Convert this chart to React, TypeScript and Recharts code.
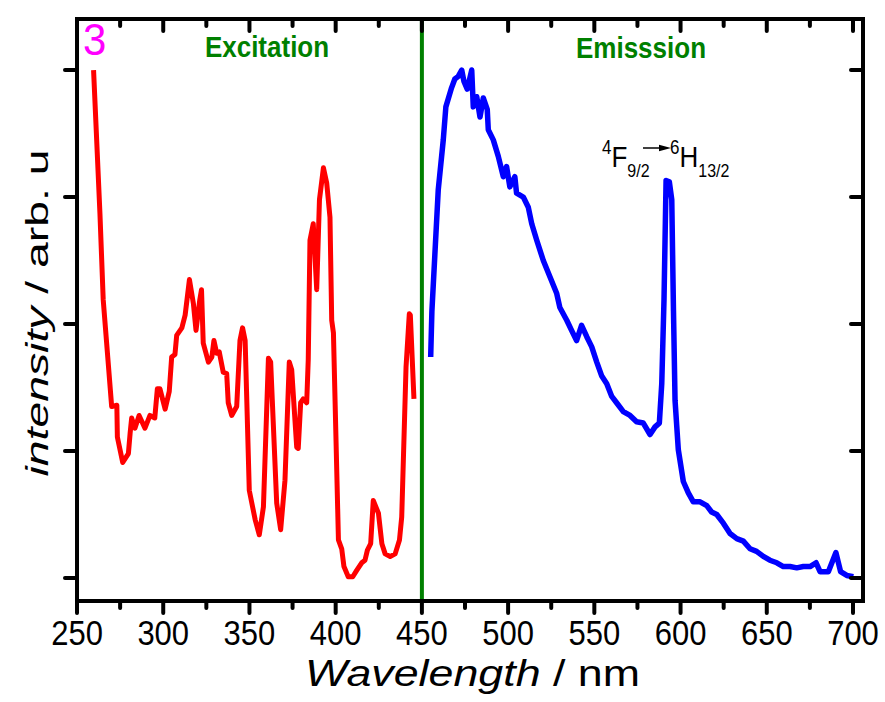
import { ComposedChart, Line, XAxis, YAxis, ReferenceLine } from 'recharts';

// excitation spectrum (red), wavelength in nm / intensity in arb. units
const exWavelength = [
  259.6, 263.3, 265.2, 270.1, 273.1, 273.4, 276.5, 279.8, 280.8, 281.7, 283.6, 286.0, 289.4, 292.3,
  295.1, 296.6, 298.1, 301.1, 303.5, 304.9, 306.8, 307.8, 310.8, 312.7, 315.2, 317.5, 319.0, 321.2,
  322.2, 323.2, 326.2, 328.2, 329.4, 331.0, 332.5, 334.8, 336.8, 337.7, 339.7, 342.6, 344.5, 346.0,
  347.5, 349.9, 353.3, 355.7, 358.1, 361.0, 362.3, 365.8, 368.1, 370.6, 373.1, 374.5, 377.4, 378.3,
  379.7, 381.2, 383.2, 384.1, 385.1, 387.0, 389.0, 390.6, 392.9, 394.8, 396.7, 397.7, 398.7, 401.6,
  403.5, 404.8, 407.3, 409.9, 412.2, 415.1, 417.0, 418.4, 420.3, 421.8, 424.8, 426.8, 428.7, 431.6,
  434.5, 437.0, 438.3, 440.8, 442.7, 443.3, 445.4,
];
const exIntensity = [
  4.0, 2.87, 2.19, 1.35, 1.36, 1.11, 0.91, 0.98, 1.14, 1.26, 1.18, 1.28, 1.18, 1.28,
  1.26, 1.49, 1.49, 1.33, 1.47, 1.74, 1.76, 1.91, 1.97, 2.07, 2.35, 2.16, 1.95, 2.19,
  2.27, 1.85, 1.7, 1.74, 1.87, 1.77, 1.78, 1.62, 1.61, 1.38, 1.28, 1.35, 1.87, 1.97,
  1.87, 0.69, 0.46, 0.34, 0.56, 1.73, 1.7, 0.59, 0.38, 0.77, 1.7, 1.64, 1.03, 1.02,
  1.38, 1.41, 1.38, 1.72, 2.66, 2.79, 2.27, 2.98, 3.23, 3.11, 2.84, 2.03, 1.93, 0.3,
  0.23, 0.09, 0.01, 0.01, 0.06, 0.12, 0.14, 0.22, 0.27, 0.61, 0.51, 0.27, 0.19, 0.17,
  0.19, 0.3, 0.48, 1.66, 2.08, 2.07, 1.41,
];

// emission spectrum (blue)
const emWavelength = [
  455.1, 455.8, 459.5, 462.4, 463.9, 467.2, 469.1, 471.1, 473.1, 474.4, 476.3, 478.9, 479.8, 481.8,
  483.7, 485.6, 487.9, 488.5, 491.4, 494.3, 497.2, 499.1, 501.0, 503.9, 504.9, 508.8, 511.7, 513.7,
  516.6, 520.4, 524.3, 528.2, 530.0, 534.0, 536.8, 539.7, 542.6, 545.6, 548.5, 551.4, 554.3, 557.2,
  560.1, 562.9, 566.8, 570.7, 574.5, 578.4, 582.3, 585.2, 587.7, 589.1, 590.4, 591.6, 593.5, 594.9,
  595.9, 596.8, 598.7, 601.6, 604.5, 607.4, 611.3, 615.2, 618.0, 621.0, 624.9, 628.7, 632.6, 636.4,
  640.3, 644.1, 648.0, 651.8, 655.8, 659.6, 663.5, 667.4, 671.2, 675.1, 678.6, 680.9, 685.7, 690.1,
  692.8, 696.4, 700.2,
];
const emIntensity = [
  1.74, 2.1, 3.06, 3.45, 3.71, 3.86, 3.93, 3.95, 4.0, 3.91, 3.85, 4.0, 3.71, 3.79,
  3.63, 3.78, 3.69, 3.53, 3.45, 3.32, 3.16, 3.24, 3.08, 3.16, 3.03, 3.0, 2.92, 2.79,
  2.66, 2.5, 2.37, 2.24, 2.13, 2.03, 1.95, 1.87, 1.99, 1.9, 1.82, 1.7, 1.59, 1.53,
  1.43, 1.38, 1.31, 1.28, 1.23, 1.22, 1.13, 1.19, 1.22, 1.53, 2.19, 3.13, 3.12, 2.98,
  2.1, 1.4, 1.01, 0.76, 0.67, 0.6, 0.6, 0.57, 0.52, 0.5, 0.43, 0.35, 0.31, 0.29,
  0.23, 0.21, 0.17, 0.14, 0.12, 0.09, 0.09, 0.08, 0.09, 0.09, 0.12, 0.05, 0.05, 0.2,
  0.05, 0.02, 0.01,
];

const majorTicks = [250, 300, 350, 400, 450, 500, 550, 600, 650, 700];
const minorTicks = [275, 325, 375, 425, 475, 525, 575, 625, 675];
const intensityTicks = [0, 1, 2, 3, 4];

const excitation = exWavelength.map((nm, i) => ({ nm, v: exIntensity[i] }));
const emission = emWavelength.map((nm, i) => ({ nm, v: emIntensity[i] }));

const FONT = '"Liberation Sans", Arial, Helvetica, sans-serif';
const X_DOMAIN: [number, number] = [250, 705.8];
const Y_DOMAIN: [number, number] = [-0.181, 4.402];
// axes get a near-zero thickness so they all sit on the plot frame
const THIN = 0.01;

const frame = { stroke: '#000', strokeWidth: 4, strokeLinecap: 'square' as const };
const tickMark = { stroke: '#000', strokeWidth: 4, strokeLinecap: 'round' as const };

const Blank = () => <g />;

const WaveTick = ({ x, y, payload }: any) => (
  <text
    transform={`translate(${x},${y + 30.5}) scale(1,1.13)`}
    textAnchor="middle"
    fontFamily={FONT}
    fontSize={31}
    fill="#000"
  >
    {payload.value}
  </text>
);

const XTitle = () => (
  <text
    x={472.5}
    y={685.5}
    textAnchor="middle"
    fontFamily={FONT}
    fontSize={36}
    fill="#000"
    textLength={335}
    lengthAdjust="spacingAndGlyphs"
  >
    <tspan fontStyle="italic">Wavelength</tspan>
    <tspan> / nm</tspan>
  </text>
);

const YTitle = () => (
  <text
    transform="translate(48,313) rotate(-90)"
    textAnchor="middle"
    fontFamily={FONT}
    fontSize={32}
    fill="#000"
    textLength={327}
    lengthAdjust="spacingAndGlyphs"
  >
    <tspan fontStyle="italic">intensity</tspan>
    <tspan> / arb. u</tspan>
  </text>
);

const Stretched = ({ x, y, size, sy = 1.13, children, ...rest }: any) => (
  <text transform={`translate(${x},${y}) scale(1,${sy})`} fontFamily={FONT} fontSize={size} {...rest}>
    {children}
  </text>
);

// term symbol: superscript multiplicity, letter, subscript J
const Term = ({ x, mult, letter, j }: any) => (
  <Stretched x={x} y={166.5} size={26} sy={1.15} fill="#000">
    <tspan fontSize={17} dy={-10.5}>{mult}</tspan>
    <tspan dy={10.5}>{letter}</tspan>
    <tspan fontSize={16} dy={9}>{j}</tspan>
  </Stretched>
);

// panel number, region captions and the transition label
const Annotations = () => (
  <svg width={885} height={702} style={{ position: 'absolute', left: 0, top: 0, pointerEvents: 'none' }}>
    <Stretched x={83} y={55} size={42} sy={1.06} fill="#FF00FF">3</Stretched>
    <Stretched x={267} y={56.5} size={26} fill="#008000" fontWeight="bold" textAnchor="middle">Excitation</Stretched>
    <Stretched x={641} y={58} size={26} fill="#008000" fontWeight="bold" textAnchor="middle">Emisssion</Stretched>

    <Term x={602} mult="4" letter="F" j="9/2" />
    <line x1={643} y1={148} x2={661} y2={148} stroke="#000" strokeWidth={1.5} />
    <polygon points="659,144.8 671,148 659,151.2" fill="#000" />
    <Term x={670} mult="6" letter="H" j="13/2" />
  </svg>
);

export default function App() {
  return (
    <div style={{ position: 'absolute', left: 0, top: 0, width: 885, height: 702, background: '#fff' }}>
      <ComposedChart width={885} height={702} margin={{ top: 19, right: 22, bottom: 101, left: 77 }}>
        {/* bottom axis: labelled major ticks, then unlabelled minors */}
        <XAxis
          xAxisId="b"
          type="number"
          dataKey="nm"
          domain={X_DOMAIN}
          allowDataOverflow
          ticks={majorTicks}
          interval={0}
          height={THIN}
          tickSize={12}
          tickMargin={2}
          axisLine={frame}
          tickLine={tickMark}
          tick={WaveTick}
          label={XTitle}
        />
        <XAxis
          xAxisId="bMinor"
          type="number"
          dataKey="nm"
          domain={X_DOMAIN}
          allowDataOverflow
          ticks={minorTicks}
          interval={0}
          height={THIN}
          tickSize={7}
          axisLine={false}
          tickLine={tickMark}
          tick={Blank}
        />
        {/* top frame with inward ticks */}
        <XAxis
          xAxisId="t"
          orientation="top"
          mirror
          type="number"
          dataKey="nm"
          domain={X_DOMAIN}
          allowDataOverflow
          ticks={majorTicks}
          interval={0}
          height={THIN}
          tickSize={12}
          axisLine={frame}
          tickLine={tickMark}
          tick={Blank}
        />
        <XAxis
          xAxisId="tMinor"
          orientation="top"
          mirror
          type="number"
          dataKey="nm"
          domain={X_DOMAIN}
          allowDataOverflow
          ticks={minorTicks}
          interval={0}
          height={THIN}
          tickSize={7}
          axisLine={false}
          tickLine={tickMark}
          tick={Blank}
        />
        <YAxis
          yAxisId="l"
          type="number"
          domain={Y_DOMAIN}
          allowDataOverflow
          ticks={intensityTicks}
          interval={0}
          width={THIN}
          tickSize={12}
          axisLine={frame}
          tickLine={tickMark}
          tick={Blank}
          label={YTitle}
        />
        <YAxis
          yAxisId="r"
          orientation="right"
          mirror
          type="number"
          domain={Y_DOMAIN}
          allowDataOverflow
          ticks={intensityTicks}
          interval={0}
          width={THIN}
          tickSize={12}
          axisLine={frame}
          tickLine={tickMark}
          tick={Blank}
        />

        <ReferenceLine xAxisId="b" yAxisId="l" x={450} stroke="#008000" strokeWidth={4} />

        <Line
          xAxisId="b"
          yAxisId="l"
          data={excitation}
          dataKey="v"
          type="linear"
          stroke="#FF0000"
          strokeWidth={5}
          strokeLinejoin="round"
          dot={false}
          activeDot={false}
          isAnimationActive={false}
        />
        <Line
          xAxisId="b"
          yAxisId="l"
          data={emission}
          dataKey="v"
          type="linear"
          stroke="#0000FF"
          strokeWidth={5.5}
          strokeLinejoin="round"
          dot={false}
          activeDot={false}
          isAnimationActive={false}
        />
      </ComposedChart>
      <Annotations />
    </div>
  );
}
